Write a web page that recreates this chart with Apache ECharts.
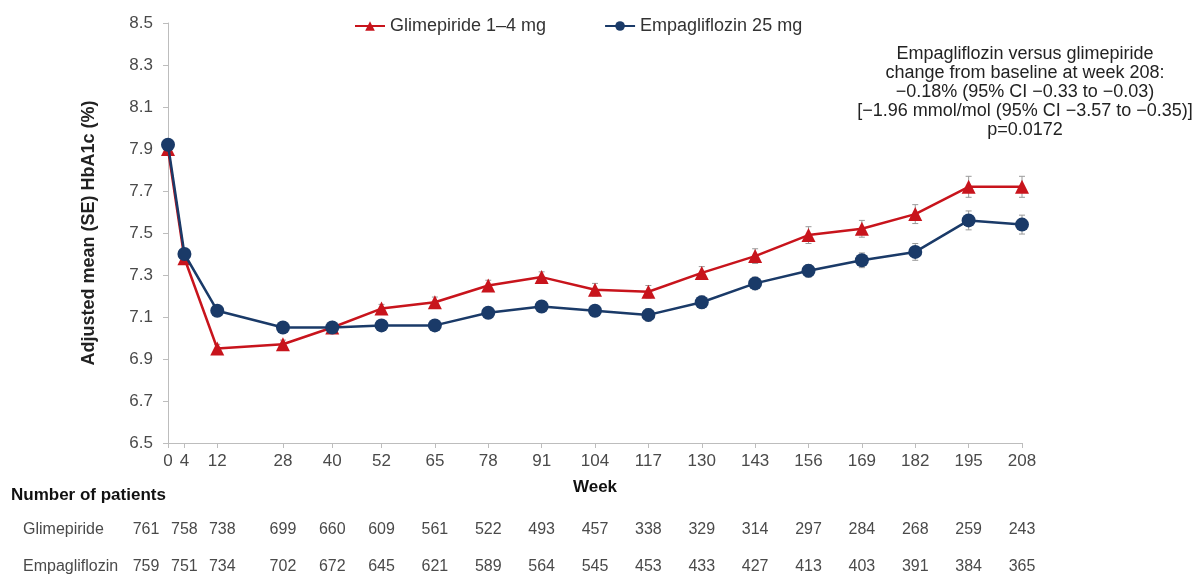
<!DOCTYPE html>
<html>
<head>
<meta charset="utf-8">
<script src="https://cdn.jsdelivr.net/npm/echarts@6/dist/echarts.min.js"></script>
<style>
  html, body { margin: 0; padding: 0; background: #fff; }
  #chart { width: 1197px; height: 579px; }
</style>
</head>
<body>
<div id="chart"></div>
<script>
// Study weeks at which HbA1c was assessed
const weeks = [0, 4, 12, 28, 40, 52, 65, 78, 91, 104, 117, 130, 143, 156, 169, 182, 195, 208];

// Adjusted mean HbA1c (%) and standard errors
const glimepiride = [7.90, 7.38, 6.95, 6.97, 7.05, 7.14, 7.17, 7.25, 7.29, 7.23, 7.22, 7.31, 7.39, 7.49, 7.52, 7.59, 7.72, 7.72];
const glimepirideSE = [0.01, 0.02, 0.02, 0.02, 0.02, 0.02, 0.025, 0.025, 0.025, 0.03, 0.03, 0.03, 0.035, 0.04, 0.04, 0.045, 0.05, 0.05];
const empagliflozin = [7.92, 7.40, 7.13, 7.05, 7.05, 7.06, 7.06, 7.12, 7.15, 7.13, 7.11, 7.17, 7.26, 7.32, 7.37, 7.41, 7.56, 7.54];
const empagliflozinSE = [0.01, 0.02, 0.02, 0.02, 0.02, 0.02, 0.02, 0.02, 0.025, 0.025, 0.03, 0.03, 0.03, 0.03, 0.035, 0.04, 0.045, 0.045];

// Number of patients at each visit
const nGlimepiride = [761, 758, 738, 699, 660, 609, 561, 522, 493, 457, 338, 329, 314, 297, 284, 268, 259, 243];
const nEmpagliflozin = [759, 751, 734, 702, 672, 645, 621, 589, 564, 545, 453, 433, 427, 413, 403, 391, 384, 365];

const seriesNames = ['Glimepiride 1–4 mg', 'Empagliflozin 25 mg'];
const rowNames = ['Glimepiride', 'Empagliflozin'];
const noteLines = [
  'Empagliflozin versus glimepiride',
  'change from baseline at week 208:',
  '\u22120.18% (95% CI \u22120.33 to \u22120.03)',
  '[\u22121.96 mmol/mol (95% CI \u22123.57 to \u22120.35)]',
  'p=0.0172'
];

const RED = '#c8141c';
const NAVY = '#1a3a68';
const FONT = '"Liberation Sans", Arial, sans-serif';
const TXT = '#4a4a4a';

const chart = echarts.init(document.getElementById('chart'));

function pairs(ys) { return weeks.map((w, i) => [w, ys[i]]); }
function errData(ys, se) { return weeks.map((w, i) => [w, ys[i] - se[i], ys[i] + se[i]]); }

function errorBars(name, ys, se) {
  return {
    type: 'custom',
    name: name + ' SE',
    z: 1,
    silent: true,
    data: errData(ys, se),
    renderItem: function (params, api) {
      const x = api.value(0);
      const lo = api.coord([x, api.value(1)]);
      const hi = api.coord([x, api.value(2)]);
      const cap = 3;
      const st = { stroke: '#9a9a9a', lineWidth: 1 };
      return {
        type: 'group',
        children: [
          { type: 'line', shape: { x1: lo[0], y1: lo[1], x2: hi[0], y2: hi[1] }, style: st },
          { type: 'line', shape: { x1: lo[0] - cap, y1: lo[1], x2: lo[0] + cap, y2: lo[1] }, style: st },
          { type: 'line', shape: { x1: hi[0] - cap, y1: hi[1], x2: hi[0] + cap, y2: hi[1] }, style: st }
        ]
      };
    }
  };
}

const option = {
  backgroundColor: '#fff',
  animation: false,
  textStyle: { fontFamily: FONT },
  grid: { left: 168, right: 175, top: 23, bottom: 136, containLabel: false },
  legend: {
    left: 349,
    top: 12,
    itemWidth: 30,
    itemHeight: 12,
    itemGap: 58,
    textStyle: { fontSize: 18, color: '#333', fontFamily: FONT },
    data: seriesNames
  },
  xAxis: {
    type: 'value',
    min: 0,
    max: 208,
    name: 'Week',
    nameLocation: 'middle',
    nameGap: 36,
    nameTextStyle: { fontSize: 17, fontWeight: 'bold', color: '#111', fontFamily: FONT },
    axisLine: { lineStyle: { color: '#bdbdbd', width: 1 } },
    axisTick: { show: true, customValues: weeks, length: 5, lineStyle: { color: '#bdbdbd' } },
    axisLabel: { customValues: weeks, fontSize: 17, color: TXT, margin: 10, fontFamily: FONT },
    splitLine: { show: false }
  },
  yAxis: {
    type: 'value',
    min: 6.5,
    max: 8.5,
    interval: 0.2,
    name: 'Adjusted mean (SE) HbA1c (%)',
    nameLocation: 'middle',
    nameGap: 70,
    nameTextStyle: { fontSize: 18, fontWeight: 'bold', color: '#222', fontFamily: FONT },
    axisLine: { show: true, lineStyle: { color: '#bdbdbd', width: 1 } },
    axisTick: { show: true, length: 5, lineStyle: { color: '#bdbdbd' } },
    axisLabel: { fontSize: 17, color: TXT, margin: 15, formatter: v => v.toFixed(1), fontFamily: FONT },
    splitLine: { show: false }
  },
  series: [
    errorBars(seriesNames[0], glimepiride, glimepirideSE),
    errorBars(seriesNames[1], empagliflozin, empagliflozinSE),
    {
      type: 'line',
      name: seriesNames[0],
      z: 3,
      data: pairs(glimepiride),
      symbol: 'triangle',
      symbolSize: 14,
      lineStyle: { color: RED, width: 2.5 },
      itemStyle: { color: RED }
    },
    {
      type: 'line',
      name: seriesNames[1],
      z: 4,
      data: pairs(empagliflozin),
      symbol: 'circle',
      symbolSize: 14,
      lineStyle: { color: NAVY, width: 2.5 },
      itemStyle: { color: NAVY }
    }
  ]
};

chart.setOption(option);

// Annotation and patient-number table placed below/alongside the plot
function buildGraphics() {
  const els = [];
  const noteX = 1025, noteTop = 54, noteStep = 19;
  noteLines.forEach((t, i) => {
    els.push({
      type: 'text', x: noteX, y: noteTop + i * noteStep,
      style: { text: t, font: '18px ' + FONT, fill: '#222', textAlign: 'center', textVerticalAlign: 'middle' }
    });
  });
  els.push({
    type: 'text', x: 11, y: 495,
    style: { text: 'Number of patients', font: 'bold 17px ' + FONT, fill: '#111', textVerticalAlign: 'middle' }
  });
  const rowY = [530, 567];
  const rows = [nGlimepiride, nEmpagliflozin];
  // the first three visits sit close together; spread their counts apart
  const nudge = [-22, 0, 5];
  rows.forEach((row, r) => {
    els.push({
      type: 'text', x: 23, y: rowY[r],
      style: { text: rowNames[r], font: '16px ' + FONT, fill: TXT, textVerticalAlign: 'middle' }
    });
    row.forEach((n, i) => {
      const px = chart.convertToPixel({ xAxisIndex: 0 }, weeks[i]) + (nudge[i] || 0);
      els.push({
        type: 'text', x: px, y: rowY[r],
        style: { text: String(n), font: '16px ' + FONT, fill: TXT, textAlign: 'center', textVerticalAlign: 'middle' }
      });
    });
  });
  chart.setOption({ graphic: els });
}
buildGraphics();
</script>
</body>
</html>
